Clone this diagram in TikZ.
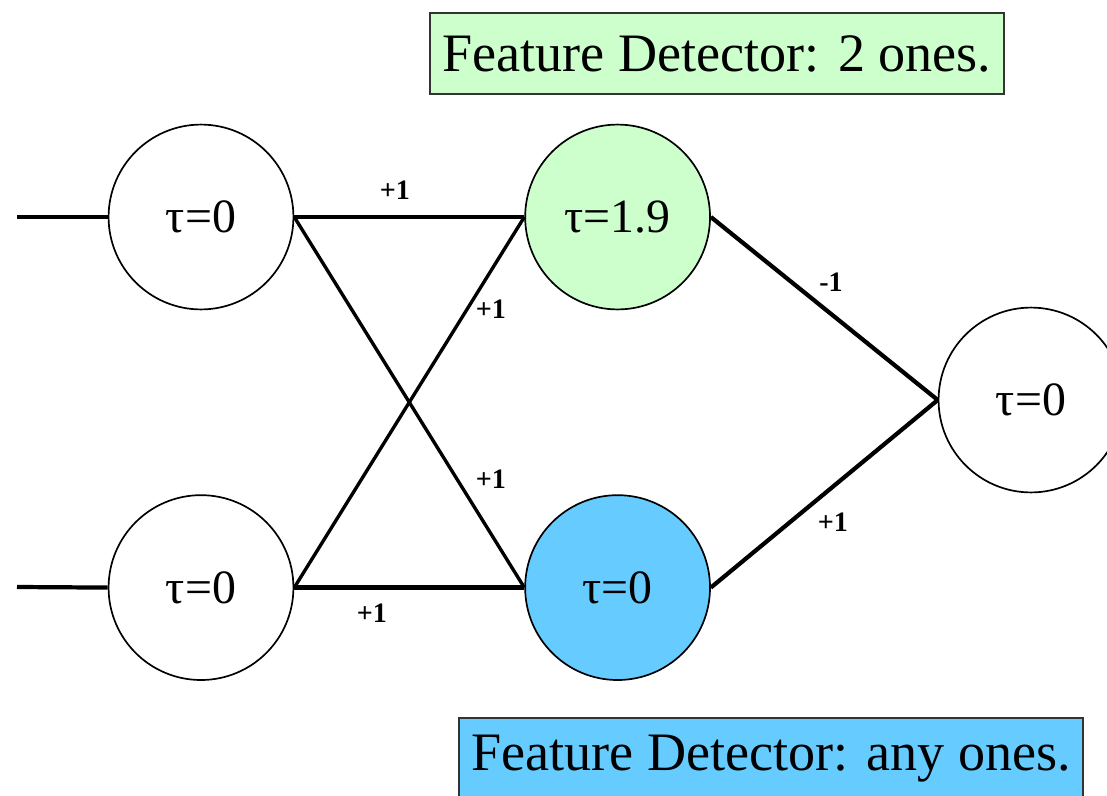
\documentclass[tikz,border=0pt]{standalone}
\usepackage{fontspec}
\setmainfont{Liberation Serif}
\usetikzlibrary{positioning}
\definecolor{DetGreen}{RGB}{204,255,204}
\definecolor{DetBlue}{RGB}{102,204,255}
\tikzset{
  unit/.style   = {draw, circle, fill=white, line width=1.2pt, minimum size=4.62cm,
                   inner sep=0pt, font=\fontsize{34}{40}\selectfont},
  wire/.style   = {line width=3pt},
  xwire/.style  = {line width=2.4pt},
  wlabel/.style = {inner sep=0pt, font=\fontsize{20}{24}\selectfont\bfseries},
  note/.style   = {draw=black!80, line width=1.3pt, minimum height=2.03cm,
                   font=\fontsize{38.5}{44}\selectfont}
}

\begin{document}
\begin{tikzpicture}[x=0.025cm, y=-0.025cm, node distance=4.6cm and 5.75cm]
\useasboundingbox (0,0) rectangle (1107,796);
\clip (0,0) rectangle (1107,796);
% units
\node[unit] (in1) at (201,217) {τ=0};
\node[unit, below=of in1] (in2) {τ=0};
\node[unit, fill=DetGreen, right=of in1] (h1) {τ=1.9};
\node[unit, fill=DetBlue, right=of in2] (h2) {τ=0};
\node[unit] (out) at (1031,400) {τ=0};
% inputs
\coordinate (x1) at (17,217);
\coordinate (x2) at (17,587);
\draw[wire] (x1) -- (in1.west);
\draw[wire] (x2) -- (in2.west);
% weights into the detectors
\draw[wire] (in1.east) -- (h1.west);
\draw[wire] (in2.east) -- (h2.west);
\draw[xwire] (in1.east) -- (h2.west);
\draw[xwire] (in2.east) -- (h1.west);
\node[wlabel] (w11) at (395,190) {+1};
\node[wlabel] (w21) at (491,309) {+1};
\node[wlabel] (w12) at (491,479) {+1};
\node[wlabel] (w22) at (372,613) {+1};
% weights into the output
\draw[wire] (h1.east) -- (out.west);
\draw[wire] (h2.east) -- (out.west);
\node[wlabel] (v1) at (831,282) {-1};
\node[wlabel] (v2) at (833,522) {+1};
% captions
\node[note, fill=DetGreen, minimum width=14.35cm] (d1) at (717,53.5) {Feature Detector: 2 ones.};
\node[note, fill=DetBlue, minimum width=15.6cm] (d2) at (771,759) {Feature Detector: any ones.};
\end{tikzpicture}
\end{document}
